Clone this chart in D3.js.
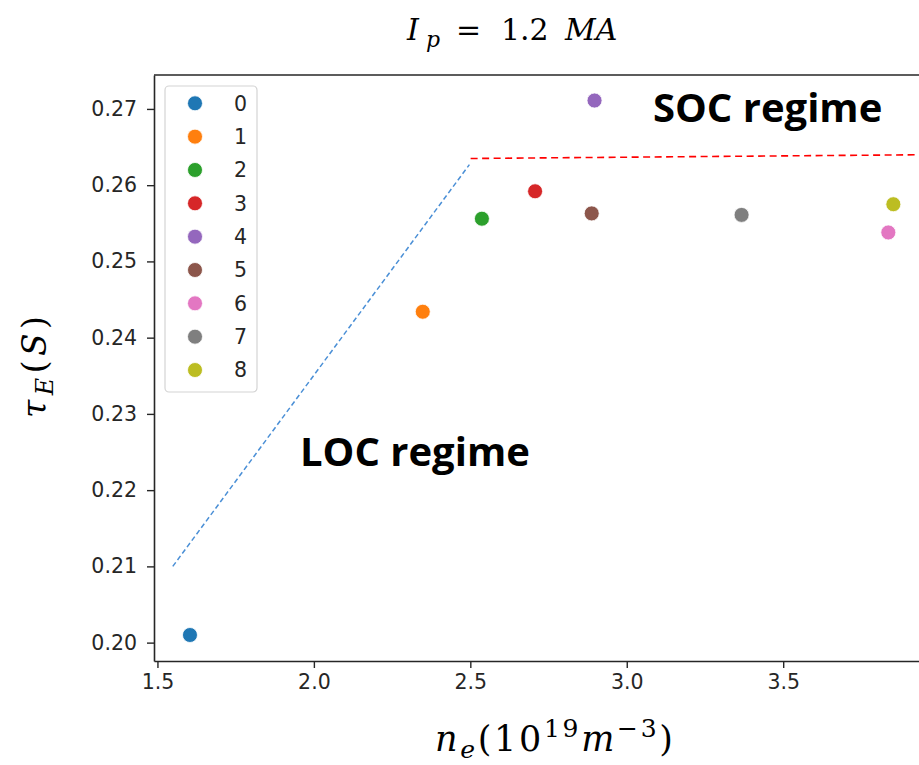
<!DOCTYPE html>
<html><head><meta charset="utf-8">
<script src="https://cdn.jsdelivr.net/npm/d3@7"></script>
<style>body{margin:0;background:#fff} svg{display:block}</style>
</head><body><svg id="c" width="919" height="765"></svg>
<script>
// ---- data ----
const labels = ["0", "1", "2", "3", "4", "5", "6", "7", "8"];
const neValues = [1.604, 2.348, 2.537, 2.707, 2.897, 2.888, 3.836, 3.367, 3.852];
const tauValues = [0.2010, 0.2434, 0.2556, 0.2592, 0.2711, 0.2563, 0.2538, 0.2561, 0.2575];
const colors = ["#1f77b4", "#ff7f0e", "#2ca02c", "#d62728", "#9467bd", "#8c564b", "#e377c2", "#7f7f7f", "#bcbd22"];
const xTicks = [1.5, 2.0, 2.5, 3.0, 3.5];
const yTicks = [0.20, 0.21, 0.22, 0.23, 0.24, 0.25, 0.26, 0.27];
const locLineX = [1.549, 2.497];
const locLineY = [0.2100, 0.2627];
const socLineX = [2.501, 3.966];
const socLineY = [0.2635, 0.2640];

// ---- layout ----
const svg = d3.select("#c");
const mLeft = 154, mTop = 75, mRight = 929, mBottom = 661;
const x = d3.scaleLinear().domain([1.489, 3.966]).range([mLeft, mRight]);
const y = d3.scaleLinear().domain([0.19759, 0.27445]).range([mBottom, mTop]);
const tickFont = "'DejaVu Sans', sans-serif";
const ink = "#262626";

// axes
const gx = svg.append("g").attr("transform", `translate(0,${mBottom})`)
  .call(d3.axisBottom(x).tickValues(xTicks).tickFormat(d3.format(".1f")).tickSize(7).tickSizeOuter(0).tickPadding(6));
const gy = svg.append("g").attr("transform", `translate(${mLeft},0)`)
  .call(d3.axisLeft(y).tickValues(yTicks).tickFormat(d3.format(".2f")).tickSize(7).tickSizeOuter(0).tickPadding(10));
[gx, gy].forEach(g => {
  g.select(".domain").attr("stroke", ink).attr("stroke-width", 1.6);
  g.selectAll(".tick line").attr("stroke", ink).attr("stroke-width", 1.4);
  g.selectAll(".tick text").attr("fill", ink).style("font-family", tickFont).style("font-size", "20.5px");
});
svg.append("line").attr("x1", mLeft).attr("x2", mRight).attr("y1", mTop).attr("y2", mTop)
  .attr("stroke", ink).attr("stroke-width", 1.6);
svg.append("line").attr("x1", mRight).attr("x2", mRight).attr("y1", mTop).attr("y2", mBottom)
  .attr("stroke", ink).attr("stroke-width", 1.6);

// dashed regime lines
const line = d3.line().x(d => x(d[0])).y(d => y(d[1]));
svg.append("path").datum(d3.zip(locLineX, locLineY)).attr("d", line)
  .attr("fill", "none").attr("stroke", "#4a8fd6").attr("stroke-width", 1.5).attr("stroke-dasharray", "5,3");
svg.append("path").datum(d3.zip(socLineX, socLineY)).attr("d", line)
  .attr("fill", "none").attr("stroke", "#ff0000").attr("stroke-width", 1.6).attr("stroke-dasharray", "7,4.5");

// points
svg.append("g").selectAll("circle").data(labels).join("circle")
  .attr("cx", (d, i) => x(neValues[i])).attr("cy", (d, i) => y(tauValues[i]))
  .attr("r", 7.5).attr("fill", (d, i) => colors[i]).attr("stroke", "#fff").attr("stroke-width", 0.8);

// legend
const lg = svg.append("g");
lg.append("rect").attr("x", 165).attr("y", 86).attr("width", 92).attr("height", 306).attr("rx", 4)
  .attr("fill", "#fff").attr("fill-opacity", 0.8).attr("stroke", "#d4d4d4").attr("stroke-width", 1.2);
labels.forEach((lab, i) => {
  const cy = 103.3 + i * 33.34;
  lg.append("circle").attr("cx", 195).attr("cy", cy).attr("r", 7.5).attr("fill", colors[i])
    .attr("stroke", "#fff").attr("stroke-width", 0.8);
  lg.append("text").attr("x", 247).attr("y", cy).attr("dy", "0.36em").attr("text-anchor", "end")
    .attr("fill", ink).style("font-family", tickFont).style("font-size", "20.5px").text(lab);
});

// annotations
const annFont = "'Open Sans', sans-serif";
svg.append("text").attr("x", 653).attr("y", 122).attr("fill", "#000")
  .style("font-family", annFont).style("font-weight", 700).style("font-size", "40px").text("SOC regime");
svg.append("text").attr("x", 300).attr("y", 466).attr("fill", "#000")
  .style("font-family", annFont).style("font-weight", 700).style("font-size", "40px").text("LOC regime");

// title  I_p = 1.2 MA
const serif = "'DejaVu Serif', 'Liberation Serif', serif";
const title = svg.append("g").attr("fill", "#000").style("font-family", serif).style("font-size", "30px");
title.append("text").attr("x", 407).attr("y", 40).style("font-style", "italic").text("I");
title.append("text").attr("x", 426).attr("y", 47).style("font-style", "italic").style("font-size", "22px").text("p");
title.append("text").attr("x", 456).attr("y", 40).text("=");
title.append("text").attr("x", 501).attr("y", 40).text("1.2");
title.append("text").attr("x", 565).attr("y", 40).style("font-style", "italic").text("MA");

// y label  τ_E(S)
const yl = svg.append("text").attr("transform", "translate(46,367) rotate(-90)").attr("text-anchor", "middle")
  .attr("fill", "#000").attr("textLength", 102).attr("lengthAdjust", "spacing")
  .style("font-family", serif).style("font-size", "33px");
yl.append("tspan").style("font-style", "italic").text("τ");
yl.append("tspan").attr("dy", 7).style("font-style", "italic").style("font-size", "24px").text("E");
yl.append("tspan").attr("dy", -7).text("(");
yl.append("tspan").style("font-style", "italic").text("S");
yl.append("tspan").text(")");

// x label  n_e(10^19 m^-3)
const xl = svg.append("text").attr("x", 554).attr("y", 751).attr("text-anchor", "middle")
  .attr("fill", "#000").attr("textLength", 238).attr("lengthAdjust", "spacing")
  .style("font-family", serif).style("font-size", "35px");
xl.append("tspan").style("font-style", "italic").text("n");
xl.append("tspan").attr("dy", 7).style("font-style", "italic").style("font-size", "25px").text("e");
xl.append("tspan").attr("dy", -7).text("(10");
xl.append("tspan").attr("dy", -14).style("font-size", "25px").text("19");
xl.append("tspan").attr("dy", 14).style("font-style", "italic").text("m");
xl.append("tspan").attr("dy", -14).style("font-size", "25px").text("−3");
xl.append("tspan").attr("dy", 14).text(")");
</script></body></html>
